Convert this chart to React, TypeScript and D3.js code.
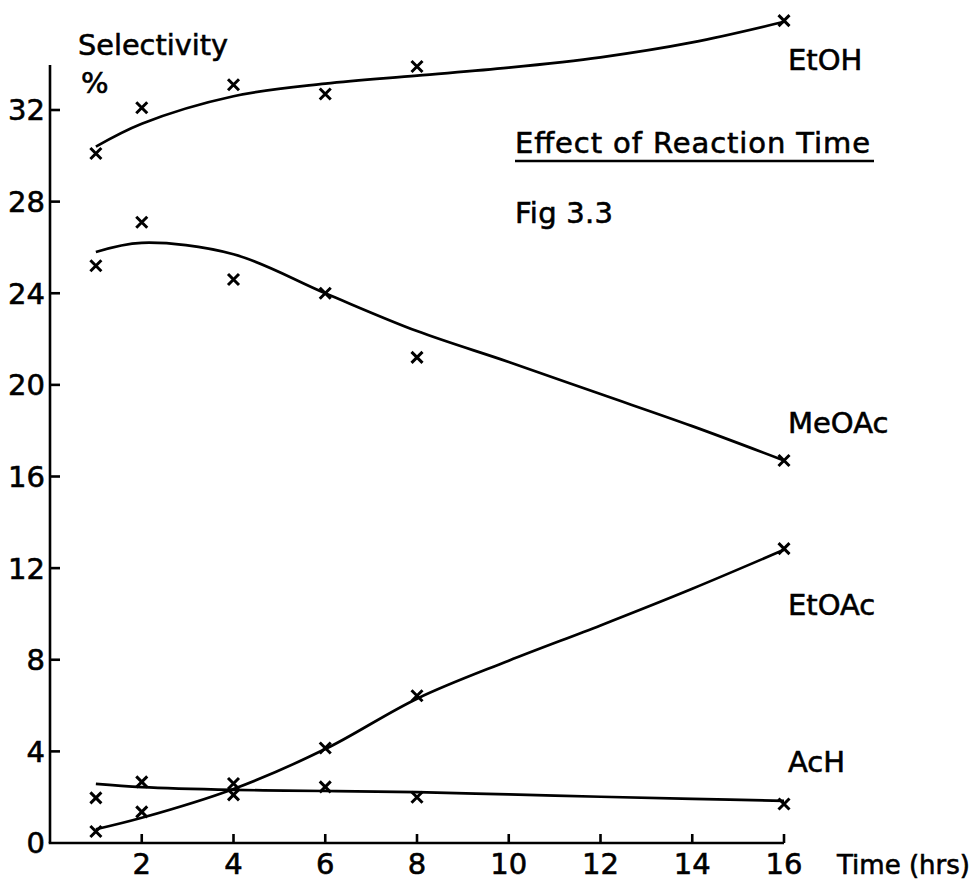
import React from "react";
import * as d3 from "d3";

// ---- data ----
const timeHrs = [1, 2, 4, 6, 8, 16];
const etohPts = [30.1, 32.1, 33.1, 32.7, 33.9, 35.9];
const meoacPts = [25.2, 27.1, 24.6, 24.0, 21.2, 16.7];
const etoacPts = [0.5, 1.36, 2.1, 4.15, 6.43, 12.85];
const achPts = [1.97, 2.67, 2.6, 2.45, 2.0, 1.7];

// hand-drawn fitted curves (knots)
const fitTimes = [1, 2, 4, 6, 8, 10, 12, 14, 16];
const etohFit = [30.4, 31.4, 32.6, 33.15, 33.5, 33.85, 34.3, 34.95, 35.85];
const meoacFit = [25.8, 26.2, 25.7, 24.0, 22.35, 21.0, 19.6, 18.2, 16.7];
const etoacFit = [0.6, 1.1, 2.36, 4.1, 6.3, 7.96, 9.5, 11.1, 12.8];
const achFit = [2.58, 2.44, 2.32, 2.27, 2.22, 2.12, 2.02, 1.93, 1.84];

const seriesNames = ["EtOH", "MeOAc", "EtOAc", "AcH"];
const labelValues = [33.75, 17.9, 9.95, 3.1];

const xTicks = [2, 4, 6, 8, 10, 12, 14, 16];
const yTicks = [0, 4, 8, 12, 16, 20, 24, 28, 32];

const yLabel1 = "Selectivity";
const yLabel2 = "%";
const xLabel = "Time (hrs)";
const title = "Effect of Reaction Time";
const figLabel = "Fig 3.3";

export default function App() {
  const W = 978;
  const H = 890;
  const x = d3.scaleLinear().domain([0, 16]).range([50, 784]);
  const y = d3.scaleLinear().domain([0, 32]).range([843, 110]);
  const font = "'DejaVu Sans', sans-serif";
  const fs = 29;
  const textStyle = { stroke: "#000", strokeWidth: 0.6 };

  const line = d3
    .line<[number, number]>()
    .x((d) => x(d[0]))
    .y((d) => y(d[1]))
    .curve(d3.curveCatmullRom.alpha(0.5));

  const fits = [etohFit, meoacFit, etoacFit, achFit];
  const pts = [etohPts, meoacPts, etoacPts, achPts];
  const ms = 5.5;

  return (
    <svg
      width={W}
      height={H}
      style={{ position: "absolute", left: 0, top: 0, background: "#fff" }}
      fontFamily={font}
    >
      <rect width={W} height={H} fill="#fff" />
      {/* axes */}
      <line x1={x(0)} x2={x(0)} y1={65} y2={y(0)} stroke="#000" strokeWidth={2.6} />
      <line x1={x(0) - 1.3} x2={x(16)} y1={y(0)} y2={y(0)} stroke="#000" strokeWidth={2.6} />
      {yTicks.map((t) => (
        <g key={"y" + t}>
          {t > 0 && (
            <line x1={x(0)} x2={x(0) + 10} y1={y(t)} y2={y(t)} stroke="#000" strokeWidth={2.6} />
          )}
          <text x={45} y={y(t)} dy="0.36em" textAnchor="end" fontSize={fs} fill="#000" style={textStyle}>
            {t}
          </text>
        </g>
      ))}
      {xTicks.map((t) => (
        <g key={"x" + t}>
          <line x1={x(t)} x2={x(t)} y1={y(0)} y2={y(0) - 9} stroke="#000" strokeWidth={2.6} />
          <text x={x(t)} y={874} textAnchor="middle" fontSize={fs} fill="#000" style={textStyle}>
            {t}
          </text>
        </g>
      ))}
      <text x={837} y={874} fontSize={26} fill="#000" style={textStyle}>
        {xLabel}
      </text>
      <text x={78} y={55} fontSize={fs} fill="#000" style={textStyle} textLength={150} lengthAdjust="spacingAndGlyphs">
        {yLabel1}
      </text>
      <text x={81} y={93} fontSize={fs} fill="#000" style={textStyle}>
        {yLabel2}
      </text>

      {/* title */}
      <text x={515} y={153} fontSize={fs} fill="#000" style={textStyle} textLength={355} lengthAdjust="spacing">
        {title}
      </text>
      <line x1={515} x2={874} y1={161} y2={161} stroke="#000" strokeWidth={2.4} />
      <text x={515} y={223} fontSize={fs} fill="#000" style={textStyle} textLength={98} lengthAdjust="spacing">
        {figLabel}
      </text>

      {/* fitted curves */}
      {fits.map((f, i) => (
        <path
          key={"c" + i}
          d={line(fitTimes.map((t, j) => [t, f[j]] as [number, number])) || ""}
          fill="none"
          stroke="#000"
          strokeWidth={2.7}
        />
      ))}

      {/* markers */}
      {pts.map((p, i) =>
        p.map((v, j) => {
          const cx = x(timeHrs[j]);
          const cy = y(v);
          return (
            <path
              key={"m" + i + "_" + j}
              d={`M${cx - ms},${cy - ms}L${cx + ms},${cy + ms}M${cx - ms},${cy + ms}L${cx + ms},${cy - ms}`}
              stroke="#000"
              strokeWidth={3}
              fill="none"
            />
          );
        })
      )}

      {/* series labels */}
      {seriesNames.map((n, i) => (
        <text key={n} x={788} y={y(labelValues[i])} fontSize={fs} fill="#000" style={textStyle}>
          {n}
        </text>
      ))}
    </svg>
  );
}
